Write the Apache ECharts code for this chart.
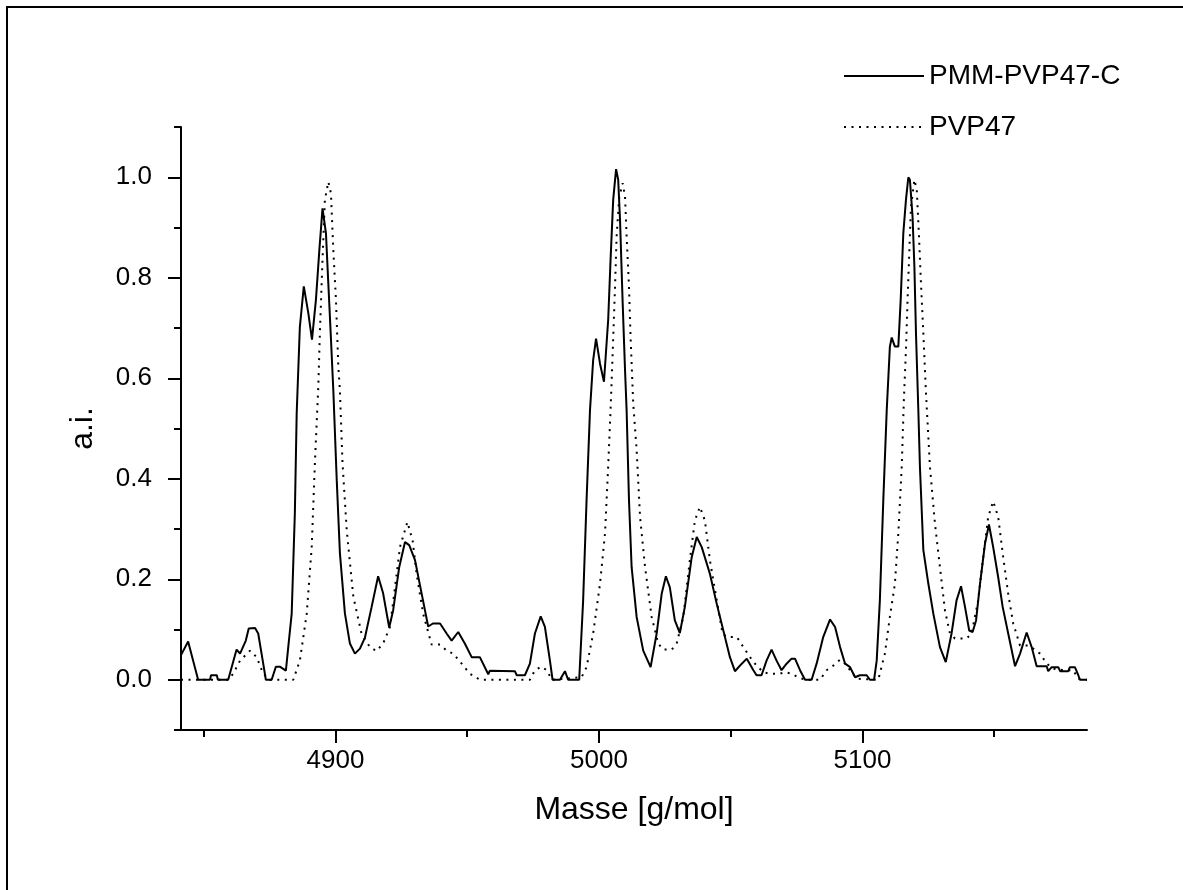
<!DOCTYPE html>
<html>
<head>
<meta charset="utf-8">
<script src="https://cdn.jsdelivr.net/npm/echarts@6/dist/echarts.min.js"></script>
<style>
html,body{margin:0;padding:0;background:#fff;}
#chart{width:1183px;height:890px;}
</style>
</head>
<body>
<div id="chart"></div>
<script>
// ---- data ----
const seriesNames = ['PMM-PVP47-C', 'PVP47'];

const massPMM = [4841.3,4844.1,4847.9,4852.4,4852.8,4855.0,4855.4,4859.3,4862.5,4863.8,4866.0,4867.1,4869.5,4870.7,4872.6,4873.6,4875.8,4877.4,4878.9,4881.2,4882.1,4883.4,4884.6,4885.3,4886.5,4888.0,4889.7,4891.1,4892.6,4893.9,4895.1,4896.4,4897.3,4898.2,4899.2,4900.5,4901.7,4903.6,4905.5,4907.4,4909.3,4911.2,4913.7,4916.2,4918.1,4920.4,4921.9,4924.2,4926.4,4928.0,4930.2,4932.7,4935.2,4937.0,4939.7,4942.2,4944.1,4946.6,4949.1,4951.7,4954.8,4958.0,4958.6,4968.1,4968.8,4971.9,4973.8,4975.7,4977.9,4979.5,4981.4,4982.4,4985.2,4987.1,4988.3,4992.5,4994.0,4995.3,4996.6,4997.8,4998.9,5000.4,5001.9,5003.5,5004.4,5005.4,5006.5,5007.3,5008.0,5009.0,5009.9,5010.5,5011.4,5012.4,5014.3,5016.8,5019.6,5021.9,5023.8,5025.4,5026.9,5028.8,5030.7,5032.6,5035.2,5037.1,5039.0,5042.1,5044.7,5047.2,5049.7,5051.6,5054.2,5056.1,5058.6,5059.8,5061.7,5063.6,5065.5,5067.4,5069.3,5071.2,5073.1,5074.4,5076.3,5078.2,5080.7,5082.6,5085.1,5087.7,5089.6,5091.5,5093.4,5095.3,5097.2,5099.0,5101.6,5102.8,5104.4,5105.4,5106.6,5107.9,5109.2,5110.4,5111.1,5112.3,5113.6,5114.5,5115.5,5116.5,5117.4,5118.0,5119.0,5119.7,5120.3,5121.2,5121.8,5123.1,5125.0,5126.9,5129.4,5131.6,5133.8,5135.7,5137.4,5138.9,5140.5,5141.8,5143.1,5144.6,5146.5,5148.0,5149.6,5151.5,5153.2,5155.3,5157.9,5159.8,5162.3,5164.2,5166.1,5169.9,5170.5,5171.8,5174.3,5175.0,5178.1,5178.7,5180.6,5181.9,5182.5,5185.2];
const valPMM = [0.048,0.076,0,0,0.009,0.009,0,0,0.060,0.052,0.078,0.102,0.103,0.092,0.032,0,0,0.026,0.026,0.018,0.065,0.131,0.331,0.530,0.702,0.783,0.730,0.677,0.756,0.855,0.938,0.889,0.789,0.690,0.576,0.397,0.252,0.132,0.072,0.052,0.062,0.084,0.144,0.206,0.172,0.104,0.138,0.224,0.274,0.268,0.238,0.172,0.106,0.112,0.112,0.092,0.078,0.095,0.072,0.045,0.045,0.011,0.018,0.017,0.009,0.009,0.032,0.092,0.126,0.105,0.038,0,0,0.017,0,0,0.158,0.357,0.536,0.636,0.679,0.629,0.593,0.716,0.835,0.955,1.016,0.995,0.915,0.750,0.616,0.536,0.357,0.224,0.125,0.058,0.025,0.092,0.171,0.206,0.184,0.118,0.093,0.145,0.244,0.284,0.264,0.211,0.151,0.098,0.045,0.017,0.032,0.042,0.019,0.009,0.009,0.038,0.060,0.038,0.019,0.032,0.042,0.042,0.019,0,0,0.032,0.085,0.120,0.105,0.065,0.032,0.025,0.005,0.009,0.009,0,0,0.038,0.158,0.357,0.536,0.663,0.681,0.663,0.663,0.756,0.889,0.955,1.0,0.995,0.922,0.822,0.690,0.536,0.424,0.258,0.191,0.131,0.065,0.035,0.092,0.158,0.186,0.145,0.098,0.095,0.118,0.191,0.271,0.309,0.264,0.204,0.145,0.092,0.027,0.052,0.094,0.065,0.027,0.027,0.017,0.025,0.025,0.017,0.017,0.025,0.025,0.009,0,0];

const massPVP = [4841.4,4859.3,4861.2,4863.8,4867.6,4870.1,4872.6,4875.1,4884.0,4886.5,4889.1,4891.0,4892.2,4893.5,4894.1,4895.0,4896.0,4897.3,4898.3,4899.2,4900.2,4901.1,4901.7,4902.7,4904.3,4906.8,4909.9,4913.1,4915.6,4918.1,4920.7,4922.6,4924.5,4927.3,4929.3,4930.8,4933.3,4936.5,4939.7,4942.2,4944.7,4947.9,4951.0,4954.8,4973.8,4975.7,4978.2,4980.2,4982.1,4993.4,4995.3,4997.8,5000.4,5002.3,5003.5,5004.4,5005.2,5006.1,5006.7,5007.7,5009.0,5009.9,5010.5,5011.4,5012.0,5013.0,5014.3,5015.6,5017.5,5020.0,5022.5,5024.4,5027.6,5029.5,5032.0,5034.5,5036.4,5038.3,5040.2,5042.1,5044.7,5046.9,5048.5,5052.3,5054.8,5057.3,5059.8,5062.4,5064.9,5068.7,5070.6,5073.1,5075.6,5078.2,5083.9,5086.4,5088.9,5091.5,5093.4,5095.3,5097.8,5106.0,5108.5,5110.4,5112.3,5113.6,5114.9,5115.7,5116.5,5117.1,5117.8,5118.4,5119.7,5120.6,5121.4,5122.2,5123.1,5124.1,5125.6,5127.5,5129.4,5131.3,5133.2,5135.1,5139.5,5141.4,5143.9,5145.8,5147.7,5149.6,5151.5,5153.4,5155.3,5157.2,5159.8,5162.9,5164.8,5167.4,5169.9,5172.4,5176.2,5180.0,5181.9,5183.8,5185.2];
const valPVP = [0,0,0.012,0.038,0.058,0.045,0.012,0,0,0.038,0.131,0.264,0.430,0.583,0.690,0.822,0.955,0.991,0.968,0.855,0.756,0.623,0.576,0.430,0.297,0.165,0.092,0.065,0.057,0.072,0.105,0.184,0.264,0.314,0.277,0.211,0.131,0.070,0.070,0.058,0.052,0.032,0.012,0,0,0.019,0.026,0.019,0,0.005,0.025,0.092,0.191,0.291,0.424,0.536,0.649,0.782,0.882,0.961,0.988,0.961,0.882,0.782,0.682,0.550,0.457,0.324,0.224,0.125,0.072,0.060,0.060,0.072,0.125,0.238,0.317,0.344,0.317,0.238,0.158,0.092,0.085,0.085,0.065,0.045,0.028,0.015,0.012,0.012,0.015,0.012,0.005,0,0,0.019,0.028,0.040,0.032,0.019,0.002,0,0.052,0.125,0.191,0.291,0.424,0.556,0.656,0.756,0.855,0.941,0.995,0.975,0.888,0.789,0.689,0.570,0.424,0.311,0.224,0.138,0.092,0.082,0.082,0.092,0.158,0.244,0.324,0.355,0.324,0.244,0.171,0.112,0.068,0.068,0.062,0.052,0.032,0.022,0.019,0.019,0.002,0,0];

const xMajorTicks = [4900, 5000, 5100];
const xMinorTicks = [4850, 4950, 5050, 5150];
const yMajorTicks = [0, 0.2, 0.4, 0.6, 0.8, 1.0];
const yMinorTicks = [-0.1, 0.1, 0.3, 0.5, 0.7, 0.9, 1.1];
const xRange = [4841.4, 5185.2];
const yRange = [-0.1, 1.1];
const xTitle = 'Masse [g/mol]';
const yTitle = 'a.i.';

// ---- chart ----
const FONT = '"Liberation Sans", Arial, sans-serif';
const zip = (a, b) => a.map((v, i) => [v, b[i]]);

const chart = echarts.init(document.getElementById('chart'), null, {renderer: 'canvas'});

const hiddenAxisCommon = {
  axisLine: {show: false, onZero: false},
  splitLine: {show: false},
  axisLabel: {show: false}
};

chart.setOption({
  animation: false,
  backgroundColor: '#fff',
  textStyle: {fontFamily: FONT, color: '#000'},
  graphic: [{
    type: 'rect',
    shape: {x: 7, y: 7, width: 1300, height: 1000},
    style: {fill: 'none', stroke: '#000', lineWidth: 2},
    silent: true,
    z: 100
  }],
  grid: {left: 181, right: 96, top: 127, bottom: 160, containLabel: false},
  legend: {
    orient: 'vertical',
    left: 843,
    top: 61,
    padding: 0,
    itemWidth: 80,
    itemHeight: 14,
    itemGap: 21,
    data: seriesNames,
    itemStyle: {color: 'rgba(0,0,0,0)', borderColor: 'rgba(0,0,0,0)', borderWidth: 0},
    textStyle: {fontFamily: FONT, fontSize: 28, color: '#000', lineHeight: 30},
    selectedMode: false
  },
  xAxis: [{
    type: 'value',
    min: xRange[0], max: xRange[1],
    name: xTitle,
    nameLocation: 'middle',
    nameGap: 64,
    nameTextStyle: {fontFamily: FONT, fontSize: 32, color: '#000'},
    axisLine: {show: true, onZero: false, lineStyle: {color: '#000', width: 2}},
    axisTick: {show: true, inside: false, length: 13, lineStyle: {color: '#000', width: 2}, customValues: xMajorTicks},
    axisLabel: {show: true, margin: 18, fontFamily: FONT, fontSize: 26, color: '#000', customValues: xMajorTicks, formatter: v => String(Math.round(v))},
    splitLine: {show: false}
  }, Object.assign({
    type: 'value', min: xRange[0], max: xRange[1], position: 'bottom',
    axisTick: {show: true, inside: false, length: 7, lineStyle: {color: '#000', width: 2}, customValues: xMinorTicks}
  }, hiddenAxisCommon)],
  yAxis: [{
    type: 'value',
    min: yRange[0], max: yRange[1],
    name: yTitle,
    nameLocation: 'middle',
    nameGap: 82,
    nameRotate: 90,
    nameTextStyle: {fontFamily: FONT, fontSize: 32, color: '#000'},
    axisLine: {show: true, onZero: false, lineStyle: {color: '#000', width: 2}},
    axisTick: {show: true, inside: false, length: 13, lineStyle: {color: '#000', width: 2}, customValues: yMajorTicks},
    axisLabel: {show: true, margin: 29, fontFamily: FONT, fontSize: 26, color: '#000', customValues: yMajorTicks, formatter: v => v.toFixed(1)},
    splitLine: {show: false}
  }, Object.assign({
    type: 'value', min: yRange[0], max: yRange[1], position: 'left',
    axisTick: {show: true, inside: false, length: 7, lineStyle: {color: '#000', width: 2}, customValues: yMinorTicks}
  }, hiddenAxisCommon)],
  series: [{
    name: seriesNames[0],
    type: 'line',
    xAxisIndex: 0, yAxisIndex: 0,
    data: zip(massPMM, valPMM),
    symbol: 'none',
    smooth: false,
    lineStyle: {color: '#000', width: 2, type: 'solid'},
    itemStyle: {color: '#000'},
    z: 3
  }, {
    name: seriesNames[1],
    type: 'line',
    xAxisIndex: 0, yAxisIndex: 0,
    data: zip(massPVP, valPVP),
    symbol: 'none',
    smooth: false,
    lineStyle: {color: '#000', width: 2, type: [2, 5.5], cap: 'butt'},
    itemStyle: {color: '#000'},
    z: 2
  }]
});
</script>
</body>
</html>
